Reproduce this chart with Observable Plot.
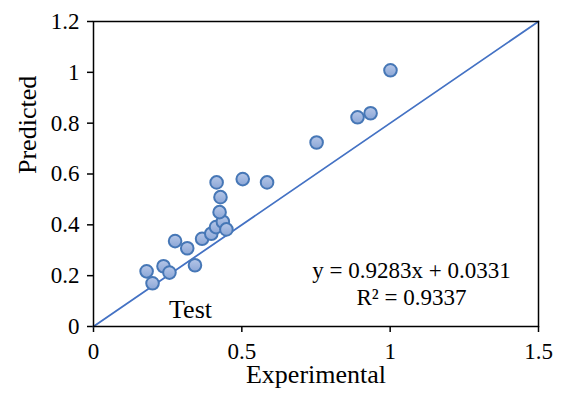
<!DOCTYPE html>
<html>
<head>
<meta charset="utf-8">
<script src="https://cdn.jsdelivr.net/npm/d3@7"></script>
<script src="https://cdn.jsdelivr.net/npm/@observablehq/plot@0.6"></script>
<style>
  html, body { margin: 0; padding: 0; background: #fff; }
  #chart svg { display: block; }
  #chart svg text { font-family: 'Liberation Serif', 'Times New Roman', serif; font-variant: normal; }
</style>
</head>
<body>
<div id="chart"></div>
<script>
const experimental = [0.179, 0.199, 0.236, 0.256, 0.275, 0.316, 0.342, 0.366, 0.397, 0.413, 0.436, 0.448, 0.425, 0.428, 0.415, 0.503, 0.585, 0.752, 0.890, 0.934, 1.001];
const predicted    = [0.217, 0.170, 0.237, 0.212, 0.336, 0.308, 0.241, 0.345, 0.365, 0.391, 0.412, 0.382, 0.450, 0.509, 0.567, 0.580, 0.567, 0.724, 0.823, 0.839, 1.008];
const lineX = [0, 1.5];
const lineY = [0, 1.2];
const xTicks = [0, 0.5, 1, 1.5];
const yTicks = [0, 0.2, 0.4, 0.6, 0.8, 1, 1.2];
const xLabel = "Experimental";
const yLabel = "Predicted";
const equation = "y = 0.9283x + 0.0331";
const r2 = "R² = 0.9337";
const setName = "Test";

const serif = "'Liberation Serif', 'Times New Roman', serif";
const points = experimental.map((x, i) => ({x, y: predicted[i]}));
const diag = lineX.map((x, i) => ({x, y: lineY[i]}));

const chart = Plot.plot({
  width: 561,
  height: 398,
  marginLeft: 93,
  marginRight: 23,
  marginTop: 21,
  marginBottom: 72,
  style: {fontFamily: serif, fontSize: "23px", color: "#000", background: "#fff"},
  x: {domain: [0, 1.5]},
  y: {domain: [0, 1.2]},
  marks: [
    Plot.axisX({ticks: xTicks, tickSize: 6, tickPadding: 10, tickFormat: d => String(d), label: null, stroke: "#000", strokeWidth: 1.5, fontSize: 23, fontFamily: serif}),
    Plot.axisY({ticks: yTicks, tickSize: 6, tickPadding: 8, tickFormat: d => String(d), label: null, stroke: "#000", strokeWidth: 1.5, fontSize: 23, fontFamily: serif}),
    Plot.line(diag, {x: "x", y: "y", stroke: "#4472C4", strokeWidth: 1.8}),
    Plot.dot(points, {x: "x", y: "y", r: 6.3, fill: "url(#dotgrad)", stroke: "#4677b6", strokeWidth: 2}),
    Plot.frame({stroke: "#000", strokeWidth: 1.5}),
    Plot.text([xLabel], {text: d => d, frameAnchor: "bottom", dy: 56, fontSize: 26, fill: "#000", fontFamily: serif}),
    Plot.text([yLabel], {text: d => d, frameAnchor: "left", dx: -66, rotate: -90, fontSize: 26, fill: "#000", fontFamily: serif}),
    Plot.text([setName], {text: d => d, frameAnchor: "bottom-left", dx: 97, dy: -17, textAnchor: "middle", lineAnchor: "middle", fontSize: 26, fill: "#000", fontFamily: serif}),
    Plot.text([equation], {text: d => d, frameAnchor: "bottom-right", dx: -127, dy: -56, textAnchor: "middle", lineAnchor: "middle", fontSize: 23, fill: "#000", fontFamily: serif}),
    Plot.text([r2], {text: d => d, frameAnchor: "bottom-right", dx: -127, dy: -29, textAnchor: "middle", lineAnchor: "middle", fontSize: 23, fill: "#000", fontFamily: serif})
  ]
});

const svg = d3.select(chart);
const defs = svg.insert("defs", ":first-child");
const g = defs.append("linearGradient").attr("id", "dotgrad").attr("x1", "0").attr("y1", "0").attr("x2", "0").attr("y2", "1");
g.append("stop").attr("offset", "0%").attr("stop-color", "#b6c7e8");
g.append("stop").attr("offset", "100%").attr("stop-color", "#8ba6d6");

document.getElementById("chart").appendChild(chart);
</script>
</body>
</html>
